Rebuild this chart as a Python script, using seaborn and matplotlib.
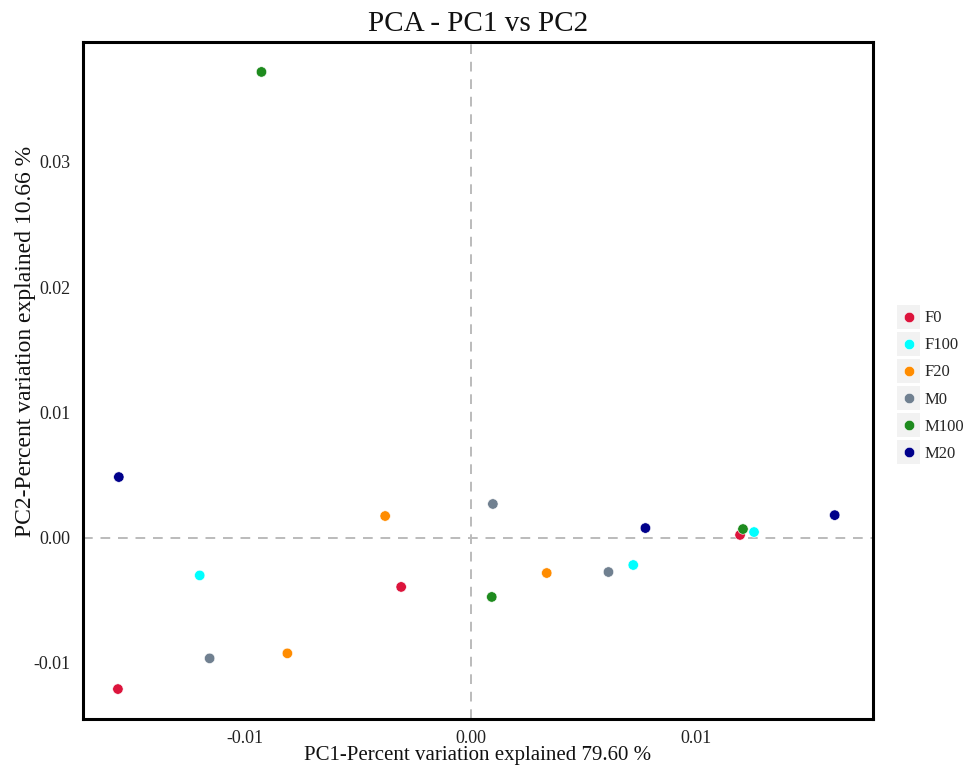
import matplotlib
matplotlib.use("Agg")
import matplotlib.pyplot as plt
import seaborn as sns
import pandas as pd
from matplotlib.legend_handler import HandlerBase
from matplotlib.patches import Rectangle
from matplotlib.lines import Line2D

groups = ["F0", "F100", "F20", "M0", "M100", "M20"]
pc1 = {
    "F0":   [0.01196, -0.00308, -0.01565],
    "F100": [0.01258, 0.00722, -0.01202],
    "F20":  [-0.00379, 0.00338, -0.00813],
    "M0":   [0.00099, 0.00612, -0.01158],
    "M100": [-0.00928, 0.01209, 0.00094],
    "M20":  [-0.01561, 0.00776, 0.01616],
}
pc2 = {
    "F0":   [0.00022, -0.00393, -0.01208],
    "F100": [0.00045, -0.00218, -0.00301],
    "F20":  [0.00173, -0.00282, -0.00923],
    "M0":   [0.00269, -0.00274, -0.00963],
    "M100": [0.03717, 0.00069, -0.00473],
    "M20":  [0.00484, 0.00077, 0.00180],
}
colors = ["#DC143C", "#00FFFF", "#FF8C00", "#708090", "#1E8B1E", "#00008B"]
xticks = [-0.01, 0.00, 0.01]
yticks = [-0.01, 0.00, 0.01, 0.02, 0.03]
xtick_labels = ["-0.01", "0.00", "0.01"]
ytick_labels = ["-0.01", "0.00", "0.01", "0.02", "0.03"]

rows = []
for g in groups:
    for a, b in zip(pc1[g], pc2[g]):
        rows.append({"group": g, "PC1": a, "PC2": b})
df = pd.DataFrame(rows)
palette = dict(zip(groups, colors))

sns.set_style("white")
plt.rcParams["font.family"] = ["Liberation Serif", "DejaVu Serif"]

fig = plt.figure(figsize=(9.69, 7.69), dpi=100)
ax = fig.add_axes([83 / 969, 1 - 719 / 769, (873 - 83) / 969, (719 - 42) / 769])

ax.axhline(0, color="#BBBBBB", linestyle=(0, (5, 4)), linewidth=1.4, zorder=1)
ax.axvline(0, color="#BBBBBB", linestyle=(0, (5, 4)), linewidth=1.4, zorder=1)

sns.scatterplot(data=df, x="PC1", y="PC2", hue="group", hue_order=groups,
                palette=palette, s=56, edgecolor="white", linewidth=0.4,
                ax=ax, legend=False, zorder=3)

ax.set_xlim(-0.0172, 0.01786)
ax.set_ylim(-0.01447, 0.03956)
ax.set_xticks(xticks)
ax.set_xticklabels(xtick_labels)
ax.set_yticks(yticks)
ax.set_yticklabels(ytick_labels)
ax.tick_params(axis="both", direction="out", length=5, width=0.8, color="#333333",
               labelsize=13, labelcolor="#222222", pad=4)
ax.tick_params(axis="x", pad=3)
for sp in ax.spines.values():
    sp.set_color("black")
    sp.set_linewidth(2.2)

ax.set_title("PCA - PC1 vs PC2", fontsize=21, color="#111111", pad=8)
ax.set_xlabel("PC1-Percent variation explained 79.60 %", fontsize=15, color="#111111")
ax.xaxis.set_label_coords(0.5, -(746 - 719) / 677)
ax.set_ylabel("PC2-Percent variation explained 10.66 %", fontsize=17, color="#111111")
ax.yaxis.set_label_coords(-0.06, 0.558)


class KeyHandler(HandlerBase):
    def create_artists(self, legend, orig_handle, xdescent, ydescent, width, height, fontsize, trans):
        w = 16.5
        h = 17.5
        cx = width / 2 - xdescent
        cy = height / 2 - ydescent
        rect = Rectangle((cx - w / 2, cy - h / 2), w, h,
                         facecolor="#F2F2F2", edgecolor="none", transform=trans)
        dot = Line2D([cx], [cy], marker="o", markersize=7.5,
                     markerfacecolor=orig_handle.get_markerfacecolor(),
                     markeredgecolor="white", markeredgewidth=0.4,
                     linestyle="none", transform=trans)
        return [rect, dot]


handles = [Line2D([0], [0], marker="o", color=c, linestyle="none") for c in colors]
leg = fig.legend(handles, groups, handler_map={Line2D: KeyHandler()},
                 loc="center left", bbox_to_anchor=(897 / 969, 1 - 384.5 / 769),
                 frameon=False, fontsize=12, handlelength=1.4, handleheight=1.45,
                 handletextpad=0.27, labelspacing=0.44, borderaxespad=0,
                 borderpad=0)

fig.savefig("out.png", dpi=100)
